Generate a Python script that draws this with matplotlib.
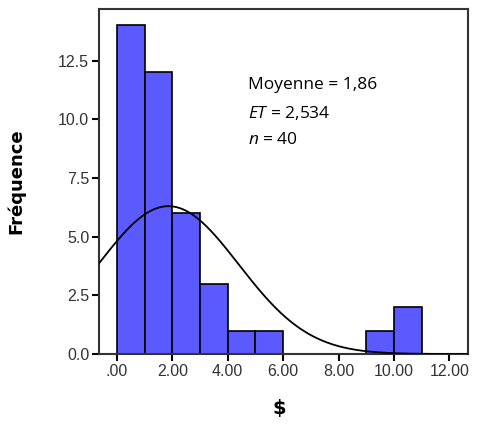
import numpy as np
import matplotlib.pyplot as plt

# histogram data
bin_left = [0, 1, 2, 3, 4, 5, 6, 7, 8, 9, 10]
counts = [14, 12, 6, 3, 1, 1, 0, 0, 0, 1, 2]
mean = 1.86
sd = 2.534
n = 40
xticks = [0, 2, 4, 6, 8, 10, 12]
xtick_labels = [".00", "2.00", "4.00", "6.00", "8.00", "10.00", "12.00"]
yticks = [0, 2.5, 5.0, 7.5, 10.0, 12.5]

plt.rcParams['mathtext.fontset'] = 'custom'
plt.rcParams['mathtext.rm'] = 'Open Sans'
plt.rcParams['mathtext.it'] = 'Open Sans:italic'

fig = plt.figure(figsize=(4.8, 4.25), dpi=100)
ax = fig.add_axes([0.206, 0.167, 0.769, 0.812])

ax.bar(bin_left, counts, width=1, align='edge', color='#5a5aff',
       edgecolor='black', linewidth=1.2, zorder=2)

# normal curve scaled to counts
xs = np.linspace(-0.65, 12.67, 400)
ys = n * 1 / (sd * np.sqrt(2 * np.pi)) * np.exp(-0.5 * ((xs - mean) / sd) ** 2)
ax.plot(xs, ys, color='black', linewidth=1.3, zorder=3)

ax.set_xlim(-0.65, 12.67)
ax.set_ylim(0, 14.7)
ax.set_xticks(xticks)
ax.set_xticklabels(xtick_labels, family='Liberation Sans')
ax.set_yticks(yticks)
ax.set_yticklabels([f"{v:.1f}" for v in yticks], family='Liberation Sans')
ax.tick_params(direction='out', length=5, width=1.5, labelsize=11.5,
               labelcolor='#333333', pad=2)
for s in ax.spines.values():
    s.set_linewidth(1.5)
    s.set_color('#333333')

ax.set_ylabel("Fréquence", fontsize=13, fontweight='bold')
ax.yaxis.set_label_coords(-0.2, 0.5)
ax.set_xlabel("$", fontsize=14, fontweight='bold')
ax.xaxis.set_label_coords(0.49, -0.129)

txt_font = 'Open Sans'
ax.text(0.404, 0.78, "Moyenne = 1,86", transform=ax.transAxes,
        fontsize=12.5, family=txt_font, va='center')
ax.text(0.404, 0.699, "$\\it{ET}$ = 2,534", transform=ax.transAxes,
        fontsize=12.5, family=txt_font, va='center')
ax.text(0.404, 0.62, "$\\it{n}$ = 40", transform=ax.transAxes,
        fontsize=12.5, family=txt_font, va='center')

fig.savefig("out.png", dpi=100)
